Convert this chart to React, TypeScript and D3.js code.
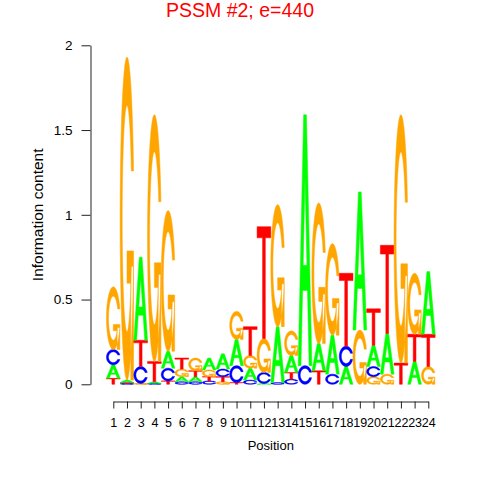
import * as d3 from 'd3';
import React, { useEffect, useRef } from 'react';

// information content per base, positions 1..24
const positions = d3.range(1, 25);
const icA = [0.08, 0.015, 0.49, 0.01, 0.1, 0.03, 0.03, 0.07, 0.09, 0.155, 0.07, 0.005, 0.33, 0.1, 1.48, 0.16, 0.23, 0.105, 0.815, 0.125, 0.24, 0, 0.135, 0.37];
const icC = [0.09, 0.005, 0.1, 0.005, 0.075, 0.015, 0.015, 0.02, 0.045, 0.1, 0.025, 0.065, 0.01, 0.03, 0.11, 0, 0.06, 0.12, 0, 0.06, 0, 0, 0, 0];
const icG = [0.37, 1.905, 0.005, 1.455, 0.83, 0.045, 0.075, 0.04, 0.015, 0.165, 0.075, 0.2, 0.72, 0.145, 0, 0.83, 0.54, 0, 0.32, 0.045, 0.06, 1.465, 0.36, 0.105];
const icT = [0.035, 0.005, 0.155, 0.12, 0.02, 0.065, 0.035, 0.025, 0.03, 0.01, 0.17, 0.66, 0, 0.04, 0, 0.08, 0, 0.43, 0, 0.215, 0.52, 0.125, 0.16, 0.19];
const yTicks = [0, 0.5, 1, 1.5, 2];

const baseColor: Record<string, string> = { A: '#00FF00', C: '#0000FF', G: '#FFA500', T: '#FF0000' };
const font = '"Liberation Sans", Arial, sans-serif';

type Pt = [number, number];

// letter outlines in a unit box, y pointing up (seqLogo style)
const ringShape = (): Pt[] => {
	const n = 100;
	const a1 = d3.range(n).map((i) => 0.3 + Math.PI / 2 + ((Math.PI / 2 - 0.3) * i) / (n - 1));
	const a2 = d3.range(n).map((i) => Math.PI + (Math.PI / 2) * i / (n - 1));
	const angles = [...a1, ...a2];
	const xl = angles.map((a) => 0.5 + 0.5 * Math.sin(a));
	const yl = angles.map((a) => 0.5 + 0.5 * Math.cos(a));
	const outer: Pt[] = [
		...xl.map((x, i) => [x, yl[i]] as Pt),
		...xl.slice().reverse().map((x, i) => [x, 1 - yl[yl.length - 1 - i]] as Pt),
	];
	const ymax = 0.5 + 0.5 * Math.cos(a1[0]);
	let xi1 = a1.map((a) => 0.5 + 0.35 * Math.sin(a));
	let yi1 = a1.map((a) => 0.5 + 0.35 * Math.cos(a));
	const keep = yi1.map((y) => y <= ymax);
	xi1 = xi1.filter((_, i) => keep[i]);
	yi1 = yi1.filter((_, i) => keep[i]);
	yi1[0] = ymax;
	const xi = [...xi1, ...a2.map((a) => 0.5 + 0.35 * Math.sin(a))];
	const yi = [...yi1, ...a2.map((a) => 0.5 + 0.35 * Math.cos(a))];
	const inner: Pt[] = [
		...xi.map((x, i) => [x, yi[i]] as Pt),
		...xi.slice().reverse().map((x, i) => [x, 1 - yi[yi.length - 1 - i]] as Pt),
	];
	return [...outer, ...inner.reverse()];
};

const r1 = 0.5 + 0.5 * Math.cos(0.3);
const letterShapes: Record<string, Pt[][]> = {
	A: [
		[[0, 0], [0.4, 1], [0.6, 1], [1, 0], [0.8, 0], [0.68, 0.3], [0.32, 0.3], [0.2, 0]],
		[[0.36, 0.4], [0.5, 0.75], [0.64, 0.4]],
	],
	C: [ringShape()],
	G: [
		ringShape(),
		[[r1, 0.4], [0.5, 0.4], [0.5, 0.3], [r1 - 0.2, 0.3], [r1 - 0.2, 0], [r1, 0]],
	],
	T: [[[0, 1], [1, 1], [1, 0.9], [0.6, 0.9], [0.6, 0], [0.4, 0], [0.4, 0.9], [0, 0.9]]],
};

const LogoChart = () => {
	const axisRef = useRef<SVGGElement>(null);

	const x = d3.scaleLinear().domain([1, 24]).range([113.3, 428.3]);
	const y = d3.scaleLinear().domain([0, 2]).range([384.3, 45.3]);
	const colW = x(2) - x(1);

	useEffect(() => {
		const g = d3.select(axisRef.current);
		g.selectAll('*').remove();

		const ya = g.append('g')
			.attr('transform', 'translate(90.5,0)')
			.call(d3.axisLeft(y).tickValues(yTicks).tickFormat(d3.format('')).tickSize(9).tickSizeOuter(0).tickPadding(9));
		const xa = g.append('g')
			.attr('transform', 'translate(0,401.5)')
			.call(d3.axisBottom(x).tickValues(positions).tickFormat(d3.format('d')).tickSize(7).tickSizeOuter(0).tickPadding(10));

		[ya, xa].forEach((a) => {
			a.selectAll('path, line').attr('stroke', '#222');
			a.selectAll('text')
				.attr('fill', '#000')
				.style('font-family', font);
		});
		ya.selectAll('text').style('font-size', '13.5px');
		xa.selectAll('text').style('font-size', '12.5px');

		return () => {
			g.selectAll('*').remove();
		};
	}, []);

	const line = d3.line<Pt>();

	const columns = positions.map((p, i) => {
		const stack = [
			{ base: 'A', v: icA[i] },
			{ base: 'C', v: icC[i] },
			{ base: 'G', v: icG[i] },
			{ base: 'T', v: icT[i] },
		].sort((a, b) => a.v - b.v);
		let acc = 0;
		return stack.map((s) => {
			const y0 = acc;
			acc += s.v;
			return { pos: p, base: s.base, y0, y1: acc };
		});
	});

	return (
		<svg width={480} height={480} style={{ position: 'absolute', left: 0, top: 0, background: '#fff' }}>
			<text x={240} y={17} textAnchor="middle" fill="#FF0000" style={{ fontFamily: font, fontSize: '19.5px' }}>
				PSSM #2; e=440
			</text>
			<g>
				{columns.flat().filter((l) => l.y1 - l.y0 > 0).map((l) => {
					const left = x(l.pos) - colW / 2;
					const bottom = y(l.y0);
					const h = bottom - y(l.y1);
					const d = letterShapes[l.base]
						.map((poly) => line(poly.map(([u, v]) => [left + u * colW, bottom - v * h] as Pt)) + 'Z')
						.join('');
					return (
						<path
							key={`${l.pos}-${l.base}`}
							d={d}
							fill={baseColor[l.base]}
							fillRule="evenodd"
							stroke={baseColor[l.base]}
							strokeWidth={0.5}
							strokeLinejoin="round"
						/>
					);
				})}
			</g>
			<g ref={axisRef} />
			<text x={270.8} y={450} textAnchor="middle" style={{ fontFamily: font, fontSize: '13px' }}>
				Position
			</text>
			<text
				transform={`translate(43,${(y(0) + y(2)) / 2}) rotate(-90)`}
				textAnchor="middle"
				style={{ fontFamily: font, fontSize: '15.5px' }}
			>
				Information content
			</text>
		</svg>
	);
};

export default function App() {
	return <LogoChart />;
}
